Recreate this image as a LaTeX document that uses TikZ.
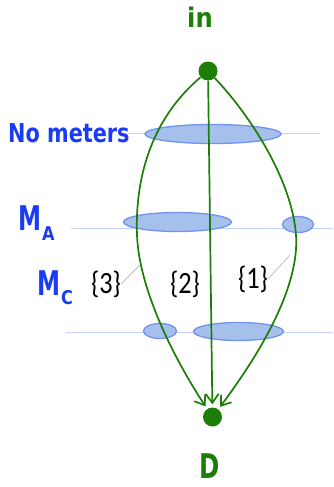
\documentclass[tikz,border=0pt]{standalone}
\usepackage{fontspec}
\setmainfont{DejaVu Sans}
\newfontfamily\bracefont{Carlito}
\usetikzlibrary{arrows.meta}
\definecolor{flowgreen}{HTML}{1C7E06}
\definecolor{labelblue}{HTML}{1A3CF5}
\definecolor{meterfill}{HTML}{A5C0EB}
\definecolor{meterdraw}{HTML}{6F93EF}
\definecolor{guideblue}{HTML}{C3D2F7}
\tikzset{
  guide/.style={draw=guideblue, line width=0.9pt},
  meter/.style={fill=meterfill, draw=meterdraw, line width=1.3pt},
  flow/.style={draw=flowgreen, line width=1.7pt, -{Straight Barb[length=9pt,width=13pt,line width=1.7pt]}, shorten >=3pt},
  endpoint/.style={circle, fill=flowgreen, minimum size=19pt, inner sep=0pt},
  gtext/.style={text=flowgreen, font=\bfseries, inner sep=0pt},
  btext/.style={text=labelblue, font=\bfseries, inner sep=0pt, anchor=base west},
  settext/.style={text=black, font=\bracefont\fontsize{31}{31}\selectfont, inner sep=0pt, anchor=base},
  pointer/.style={draw=gray!70, line width=0.5pt}
}
\newcommand{\bigM}{\scalebox{0.68}[1]{\fontsize{34}{34}\selectfont M}}
\newcommand{\subletter}[1]{\scalebox{0.85}[1]{\fontsize{19}{19}\selectfont #1}}
\begin{document}
\begin{tikzpicture}[x=1pt,y=-1pt]
\useasboundingbox (0,0) rectangle (333,487);
% guide lines
\draw[guide] (128,133) -- (320,133);
\draw[guide] (71,228) -- (333,228);
\draw[guide] (66,332) -- (333,332);
% meter ellipses
\draw[meter] (213,134) ellipse [x radius=68, y radius=9.5];
\draw[meter] (177.5,222) ellipse [x radius=54, y radius=9.5];
\draw[meter] (298,224.5) ellipse [x radius=15.5, y radius=8];
\draw[meter] (160,331) ellipse [x radius=16.5, y radius=7.5];
\draw[meter] (238.5,331.5) ellipse [x radius=45, y radius=9];
% endpoints
\node[endpoint] (src) at (208,71) {};
\node[endpoint] (dst) at (212.5,417) {};
\node[gtext, anchor=base] (srclabel) at (200,28) {\scalebox{0.9}[1]{\fontsize{27}{27}\selectfont in}};
\node[gtext, anchor=base] (dstlabel) at (209.5,478) {\scalebox{0.72}[1]{\fontsize{34}{34}\selectfont D}};
% labels
\node[btext] (nometers) at (8,142) {\scalebox{0.8}[1]{\fontsize{26}{26}\selectfont No meters}};
\node[btext] (ma) at (18,230) {\bigM\hspace{1pt}\raisebox{-10pt}{\subletter{A}}};
\node[btext] (mc) at (37,295) {\bigM\hspace{1pt}\raisebox{-9pt}{\subletter{C}}};
\node[settext] (b3) at (106,293) {\scalebox{0.85}[1]{\{3\}}};
\node[settext] (b2) at (185,293) {\scalebox{0.85}[1]{\{2\}}};
\node[settext] (b1) at (253,288) {\scalebox{0.85}[1]{\{1\}}};
% flows
\draw[flow] (src) .. controls (150,120) and (135,180) .. (137,235)
  .. controls (139,290) and (175,360) .. (dst);
\draw[flow] (src) -- (dst);
\draw[flow] (src) .. controls (250,115) and (292,180) .. (296,235)
  .. controls (300,290) and (255,360) .. (dst);
% pointers
\coordinate (p3) at (140,265);
\coordinate (p1) at (290,255);
\draw[pointer] (b3.east) -- (p3);
\draw[pointer] (b1.east) -- (p1);
\end{tikzpicture}
\end{document}
